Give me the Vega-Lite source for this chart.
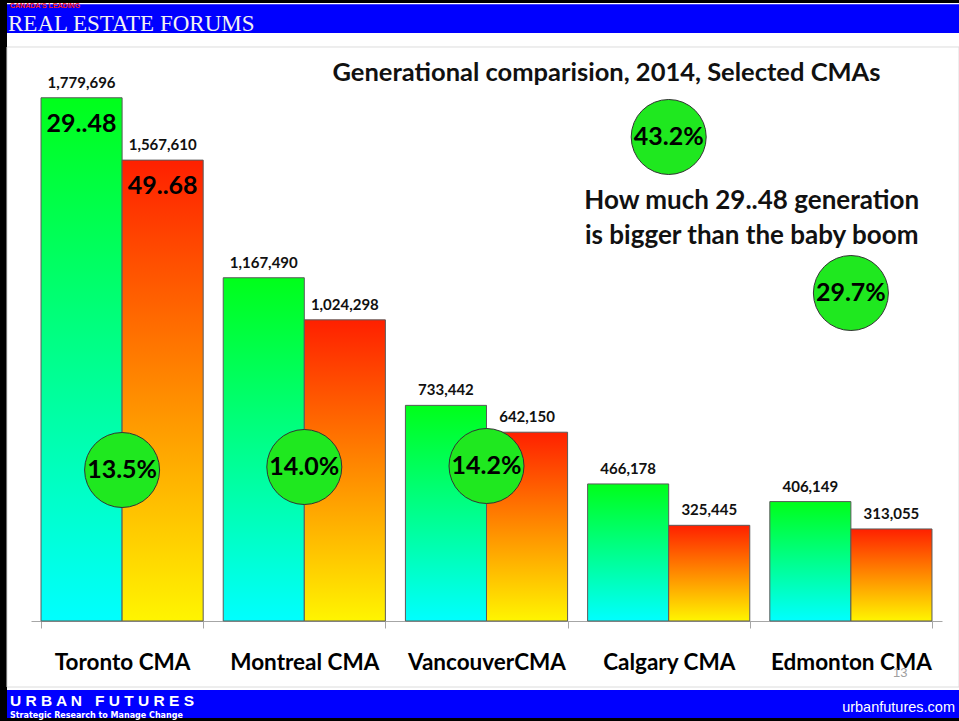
{
  "$schema": "https://vega.github.io/schema/vega-lite/v6.json",
  "width": 952,
  "height": 715,
  "autosize": {"type": "none"},
  "padding": {"left": 7, "top": 3, "right": 0, "bottom": 3},
  "background": "#000000",
  "config": {"view": {"fill": "#ffffff", "stroke": null}, "font": "Lato"},
  "datasets": {
    "bars": [
      {"city": "Toronto CMA", "gen": "29..48", "pop": 1779696},
      {"city": "Toronto CMA", "gen": "49..68", "pop": 1567610},
      {"city": "Montreal CMA", "gen": "29..48", "pop": 1167490},
      {"city": "Montreal CMA", "gen": "49..68", "pop": 1024298},
      {"city": "VancouverCMA", "gen": "29..48", "pop": 733442},
      {"city": "VancouverCMA", "gen": "49..68", "pop": 642150},
      {"city": "Calgary CMA", "gen": "29..48", "pop": 466178},
      {"city": "Calgary CMA", "gen": "49..68", "pop": 325445},
      {"city": "Edmonton CMA", "gen": "29..48", "pop": 406149},
      {"city": "Edmonton CMA", "gen": "49..68", "pop": 313055}
    ],
    "circles": [
      {"city": "Toronto CMA", "pct": "13.5%", "at": 513600},
      {"city": "Montreal CMA", "pct": "14.0%", "at": 523800},
      {"city": "VancouverCMA", "pct": "14.2%", "at": 527200},
      {"city": "Calgary CMA", "pct": "43.2%", "at": 1646300},
      {"city": "Edmonton CMA", "pct": "29.7%", "at": 1115600}
    ],
    "one": [{}]
  },
  "layer": [
    {
      "data": {"name": "one"},
      "mark": {"type": "rect", "fill": "transparent", "stroke": "#dcdcdc", "strokeWidth": 1},
      "encoding": {
        "y": {"datum": 1952381, "type": "quantitative", "scale": {"domain": [0, 2000000], "range": [618, 30], "nice": false, "zero": true}, "axis": null},
        "y2": {"datum": -224490}
      }
    },
    {
      "data": {"name": "one"},
      "mark": {"type": "rect", "fill": "#0000ff"},
      "encoding": {
        "y": {"datum": 2000000, "type": "quantitative", "scale": {"domain": [0, 2000000], "range": [618, 30], "nice": false, "zero": true}, "axis": null},
        "y2": {"datum": 2098000}
      }
    },
    {
      "data": {"name": "one"},
      "mark": {"type": "rect", "fill": "#0000ff"},
      "encoding": {
        "y": {"datum": -234694, "type": "quantitative", "scale": {"domain": [0, 2000000], "range": [618, 30], "nice": false, "zero": true}, "axis": null},
        "y2": {"datum": -329932}
      }
    },
    {
      "data": {"name": "bars"},
      "transform": [{"filter": "datum.gen === '29..48'"}],
      "mark": {
        "type": "bar",
        "stroke": "#5a5a5a",
        "strokeWidth": 1,
        "fill": {"gradient": "linear", "x1": 0, "y1": 0, "x2": 0, "y2": 1, "stops": [{"offset": 0, "color": "#00ff1a"}, {"offset": 1, "color": "#00ffff"}]}
      },
      "encoding": {
        "x": {
          "field": "city", "type": "nominal",
          "scale": {"domain": ["Toronto CMA", "Montreal CMA", "VancouverCMA", "Calgary CMA", "Edmonton CMA"], "range": [24, 935], "paddingInner": 0.11, "paddingOuter": 0.055},
          "axis": {"title": null, "orient": "bottom", "offset": -97, "labelAngle": 0, "grid": false, "tickBand": "extent", "tickSize": 7, "domainColor": "#a6a6a6", "tickColor": "#a6a6a6", "labelFont": "Lato", "labelFontSize": 22.5, "labelFontWeight": "bold", "labelColor": "#000000", "labelPadding": 23}
        },
        "xOffset": {"field": "gen", "type": "nominal", "scale": {"domain": ["29..48", "49..68"], "paddingInner": 0, "paddingOuter": 0}},
        "y": {"field": "pop", "type": "quantitative", "scale": {"domain": [0, 2000000], "range": [618, 30], "nice": false, "zero": true}, "axis": null}
      }
    },
    {
      "data": {"name": "bars"},
      "transform": [{"filter": "datum.gen === '49..68'"}],
      "mark": {
        "type": "bar",
        "stroke": "#5a5a5a",
        "strokeWidth": 1,
        "fill": {"gradient": "linear", "x1": 0, "y1": 0, "x2": 0, "y2": 1, "stops": [{"offset": 0, "color": "#ff2000"}, {"offset": 1, "color": "#fff500"}]}
      },
      "encoding": {
        "x": {"field": "city", "type": "nominal"},
        "xOffset": {"field": "gen", "type": "nominal", "scale": {"domain": ["29..48", "49..68"], "paddingInner": 0, "paddingOuter": 0}},
        "y": {"field": "pop", "type": "quantitative", "scale": {"domain": [0, 2000000], "range": [618, 30], "nice": false, "zero": true}, "axis": null}
      }
    },
    {
      "data": {"name": "bars"},
      "mark": {"type": "text", "fontSize": 15, "fontWeight": "bold", "baseline": "alphabetic", "dy": -10, "fill": "#111111"},
      "encoding": {
        "x": {"field": "city", "type": "nominal"},
        "xOffset": {"field": "gen", "type": "nominal", "scale": {"domain": ["29..48", "49..68"], "paddingInner": 0, "paddingOuter": 0}},
        "y": {"field": "pop", "type": "quantitative", "scale": {"domain": [0, 2000000], "range": [618, 30], "nice": false, "zero": true}, "axis": null},
        "text": {"field": "pop", "type": "quantitative", "format": ","}
      }
    },
    {
      "data": {"name": "bars"},
      "transform": [{"filter": "datum.city === 'Toronto CMA'"}],
      "mark": {"type": "text", "fontSize": 25, "fontWeight": "bold", "baseline": "alphabetic", "dy": 34, "fill": "#000000"},
      "encoding": {
        "x": {"field": "city", "type": "nominal"},
        "xOffset": {"field": "gen", "type": "nominal", "scale": {"domain": ["29..48", "49..68"], "paddingInner": 0, "paddingOuter": 0}},
        "y": {"field": "pop", "type": "quantitative", "scale": {"domain": [0, 2000000], "range": [618, 30], "nice": false, "zero": true}, "axis": null},
        "text": {"field": "gen", "type": "nominal"}
      }
    },
    {
      "data": {"name": "circles"},
      "mark": {"type": "circle", "size": 5625, "fill": "#1fe81f", "stroke": "#333333", "strokeWidth": 1, "opacity": 1},
      "encoding": {
        "x": {"field": "city", "type": "nominal"},
        "y": {"field": "at", "type": "quantitative", "scale": {"domain": [0, 2000000], "range": [618, 30], "nice": false, "zero": true}, "axis": null}
      }
    },
    {
      "data": {"name": "circles"},
      "mark": {"type": "text", "fontSize": 25, "fontWeight": "bold", "baseline": "middle", "fill": "#000000"},
      "encoding": {
        "x": {"field": "city", "type": "nominal"},
        "y": {"field": "at", "type": "quantitative", "scale": {"domain": [0, 2000000], "range": [618, 30], "nice": false, "zero": true}, "axis": null},
        "text": {"field": "pct", "type": "nominal"}
      }
    },
    {
      "data": {"name": "one"},
      "mark": {"type": "text", "text": "Generational comparision, 2014, Selected CMAs", "fontSize": 25.5, "fontWeight": "bold", "baseline": "alphabetic", "align": "center", "dx": 120, "fill": "#111111"},
      "encoding": {
        "x": {"datum": "VancouverCMA", "type": "nominal"},
        "y": {"datum": 1836735, "type": "quantitative", "scale": {"domain": [0, 2000000], "range": [618, 30], "nice": false, "zero": true}, "axis": null}
      }
    },
    {
      "data": {"name": "one"},
      "mark": {"type": "text", "text": ["How much 29..48 generation", "is bigger than the baby boom"], "lineHeight": 35, "fontSize": 26, "fontWeight": "bold", "baseline": "alphabetic", "align": "center", "dx": 83, "fill": "#111111"},
      "encoding": {
        "x": {"datum": "Calgary CMA", "type": "nominal"},
        "y": {"datum": 1401360, "type": "quantitative", "scale": {"domain": [0, 2000000], "range": [618, 30], "nice": false, "zero": true}, "axis": null}
      }
    },
    {
      "data": {"name": "one"},
      "mark": {"type": "text", "text": "REAL ESTATE FORUMS", "font": "Liberation Serif", "fontSize": 23, "baseline": "alphabetic", "align": "left", "dx": -475, "fill": "#f2f2f2"},
      "encoding": {
        "y": {"datum": 2006803, "type": "quantitative", "scale": {"domain": [0, 2000000], "range": [618, 30], "nice": false, "zero": true}, "axis": null}
      }
    },
    {
      "data": {"name": "one"},
      "mark": {"type": "text", "text": "CANADA'S LEADING", "font": "Liberation Sans", "fontSize": 7, "fontWeight": "bold", "baseline": "alphabetic", "align": "left", "dx": -473, "fill": "#ff2020"},
      "encoding": {
        "y": {"datum": 2085034, "type": "quantitative", "scale": {"domain": [0, 2000000], "range": [618, 30], "nice": false, "zero": true}, "axis": null}
      }
    },
    {
      "data": {"name": "one"},
      "mark": {"type": "text", "text": "U R B A N \u00a0 F U T U R E S", "font": "Liberation Sans", "fontSize": 15.5, "fontWeight": "bold", "baseline": "alphabetic", "align": "left", "dx": -473, "fill": "#ffffff"},
      "encoding": {
        "y": {"datum": -289116, "type": "quantitative", "scale": {"domain": [0, 2000000], "range": [618, 30], "nice": false, "zero": true}, "axis": null}
      }
    },
    {
      "data": {"name": "one"},
      "mark": {"type": "text", "text": "Strategic Research to Manage Change", "font": "DejaVu Sans", "fontSize": 8, "fontWeight": "bold", "baseline": "alphabetic", "align": "left", "dx": -473, "fill": "#ffffff"},
      "encoding": {
        "y": {"datum": -329000, "type": "quantitative", "scale": {"domain": [0, 2000000], "range": [618, 30], "nice": false, "zero": true}, "axis": null}
      }
    },
    {
      "data": {"name": "one"},
      "mark": {"type": "text", "text": "urbanfutures.com", "font": "Liberation Sans", "fontSize": 14.5, "baseline": "alphabetic", "align": "right", "dx": 472, "fill": "#ffffff"},
      "encoding": {
        "y": {"datum": -309524, "type": "quantitative", "scale": {"domain": [0, 2000000], "range": [618, 30], "nice": false, "zero": true}, "axis": null}
      }
    },
    {
      "data": {"name": "one"},
      "mark": {"type": "text", "text": "13", "font": "Liberation Sans", "fontSize": 13, "baseline": "alphabetic", "align": "left", "dx": 410, "fill": "#a0a0a0"},
      "encoding": {
        "y": {"datum": -190476, "type": "quantitative", "scale": {"domain": [0, 2000000], "range": [618, 30], "nice": false, "zero": true}, "axis": null}
      }
    }
  ]
}
